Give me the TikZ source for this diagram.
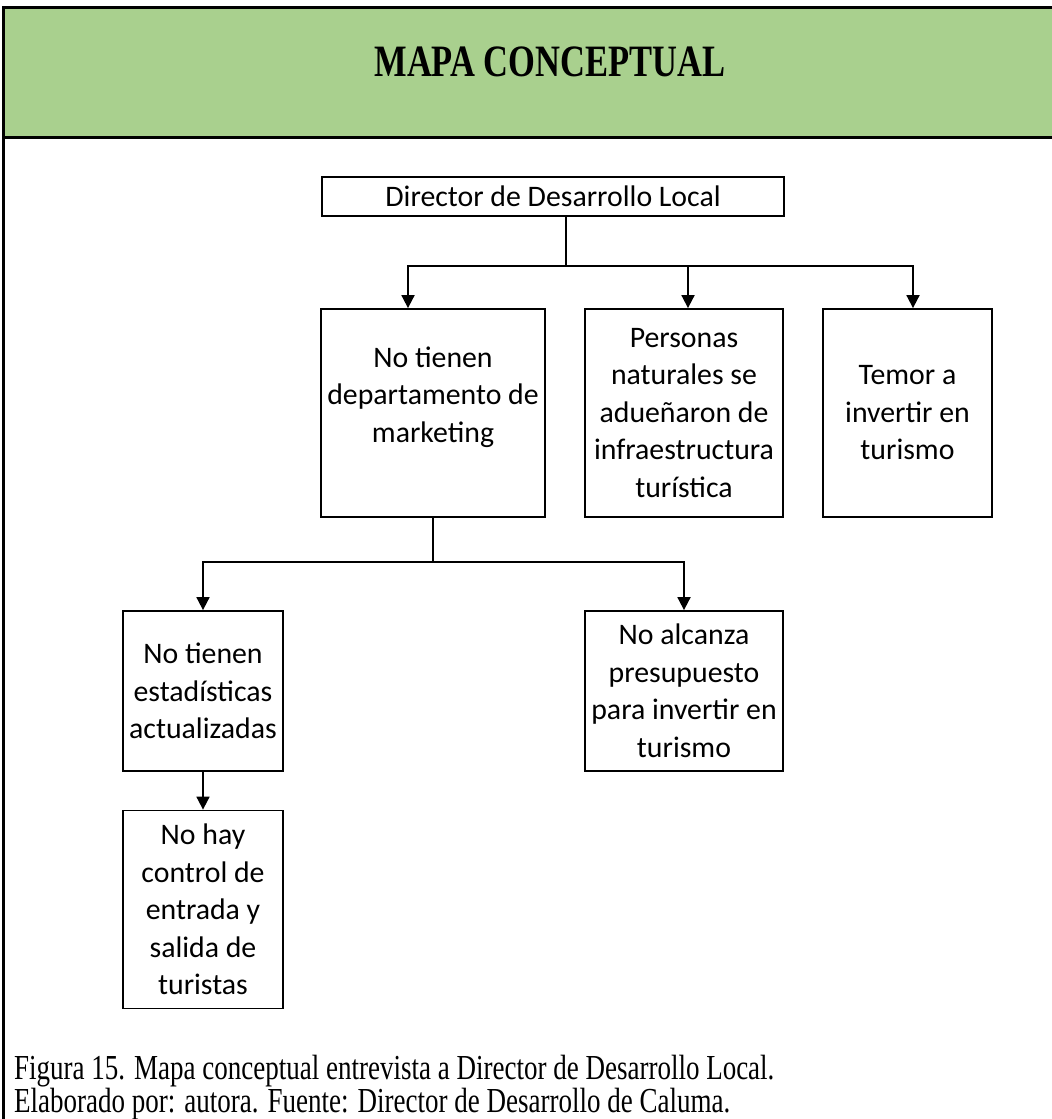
\documentclass[tikz,border=0pt]{standalone}
\usepackage{fontspec}
\setmainfont{Liberation Serif}
\newfontfamily\calibri{Carlito}
\usetikzlibrary{arrows.meta}
\definecolor{hdrgreen}{RGB}{169,208,142}
\begin{document}
\begin{tikzpicture}[x=1pt,y=-1pt,
  box/.style={draw,line width=1.8pt,inner sep=0pt,align=center,
    font=\calibri\fontsize{29.8}{37.5}\selectfont},
  conn/.style={line width=1.8pt},
  arr/.style={conn,-{Triangle[width=13pt,length=13pt]}},
  frame/.style={line width=3pt}]
\useasboundingbox (0,0) rectangle (1052,1119);
% header
\fill[hdrgreen] (3.5,7) rectangle (1052,137);
\draw[frame] (3.5,1119) -- (3.5,7) -- (1052,7);
\draw[frame] (3.5,137) -- (1052,137);
\node[font=\bfseries\fontsize{34.5}{40}\selectfont] (title) at (550,62)
  {\scalebox{1}[1.3]{MAPA CONCEPTUAL}};
% boxes
\node[box,minimum width=462pt,minimum height=39pt] (d) at (553,196.5) {Director de Desarrollo Local};
\node[box,minimum width=224pt,minimum height=208pt] (b1) at (433,413)
  {No tienen\\departamento de\\marketing\\\mbox{}};
\node[box,minimum width=198pt,minimum height=208pt] (b2) at (684,413)
  {Personas\\naturales se\\adueñaron de\\infraestructura\\turística};
\node[box,minimum width=169pt,minimum height=208pt] (b3) at (907.5,413)
  {Temor a\\invertir en\\turismo};
\node[box,minimum width=160pt,minimum height=160pt] (b4) at (203,691)
  {No tienen\\estadísticas\\actualizadas};
\node[box,minimum width=198pt,minimum height=160pt] (b5) at (684,691)
  {No alcanza\\presupuesto\\para invertir en\\turismo};
\node[box,minimum width=160pt,minimum height=198pt] (b6) at (203,909.5)
  {No hay\\control de\\entrada y\\salida de\\turistas};
% connectors
\coordinate (j1) at (566,266);
\coordinate (j2) at (433,562);
\draw[conn] (d.south -| j1) -- (j1);
\draw[arr] (j1) -| ([xshift=-25pt]b1.north);
\draw[arr] (j1) -| ([xshift=4pt]b2.north);
\draw[arr] (j1) -| ([xshift=5.5pt]b3.north);
\draw[conn] (b1.south) -- (j2);
\draw[arr] (j2) -| (b4.north);
\draw[arr] (j2) -| (b5.north);
\draw[arr] (b4.south) -- (b6.north);
% caption
\node[anchor=base west,inner sep=0pt,font=\fontsize{27}{30}\selectfont] (cap1) at (14,1079)
  {\scalebox{1}[1.3]{Figura 15. Mapa conceptual entrevista a Director de Desarrollo Local.}};
\node[anchor=base west,inner sep=0pt,font=\fontsize{27}{30}\selectfont] (cap2) at (14,1112)
  {\scalebox{1}[1.3]{Elaborado por: autora. Fuente: Director de Desarrollo de Caluma.}};
\end{tikzpicture}
\end{document}
